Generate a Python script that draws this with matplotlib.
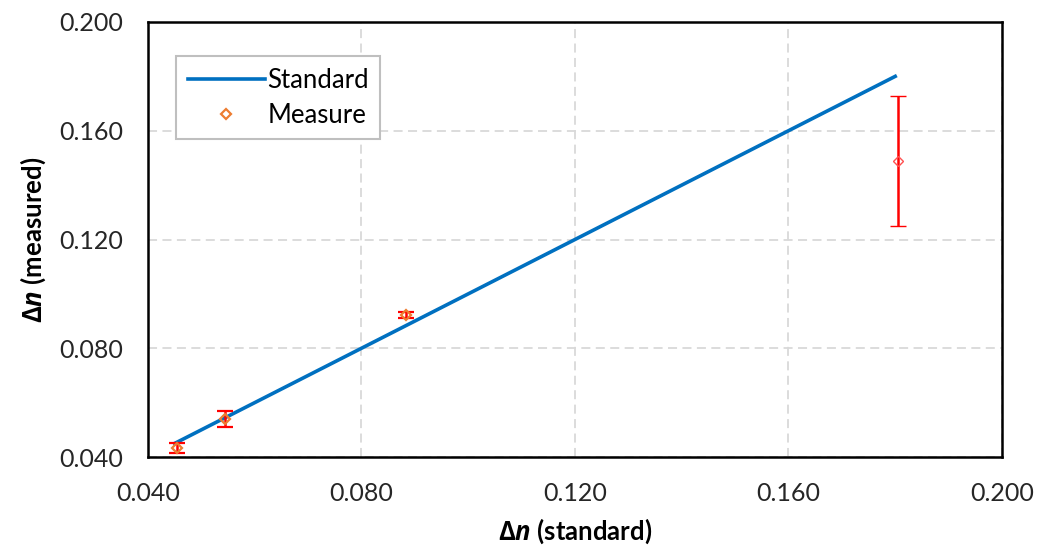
import matplotlib
matplotlib.use("Agg")
import matplotlib.pyplot as plt
from matplotlib.lines import Line2D

# Standard line (y = x)
std_x = [0.045, 0.180]
std_y = [0.045, 0.180]

# Measured points with error bars
meas_x = [0.0455, 0.0545, 0.0883, 0.1805]
meas_y = [0.0433, 0.0540, 0.0922, 0.1489]
meas_err = [0.0018, 0.0028, 0.0010, 0.0239]

x_ticks = [0.040, 0.080, 0.120, 0.160, 0.200]
y_ticks = [0.040, 0.080, 0.120, 0.160, 0.200]

plt.rcParams["font.family"] = ["Lato", "DejaVu Sans"]
plt.rcParams["mathtext.fontset"] = "custom"
plt.rcParams["mathtext.rm"] = "Open Sans:bold"
plt.rcParams["mathtext.it"] = "Open Sans:bold:italic"
plt.rcParams["mathtext.bf"] = "Open Sans:bold"

fig = plt.figure(figsize=(10.37, 5.47), dpi=100)
ax = fig.add_axes([0.1427, 0.1645, 0.8235, 0.7953])

ax.grid(True, color="#d9d9d9", linestyle=(0, (5, 3)), linewidth=1.3)
ax.set_axisbelow(True)

ax.plot(std_x, std_y, color="#0070C0", linewidth=2.6, zorder=3)

ax.errorbar(meas_x[:3], meas_y[:3], yerr=meas_err[:3], fmt="D", markersize=5,
            markerfacecolor="none", markeredgecolor="#ED7D31", markeredgewidth=1.6,
            ecolor="#FF0000", elinewidth=1.8, capsize=5.5, capthick=1.8, zorder=4)
ax.errorbar(meas_x[3:], meas_y[3:], yerr=meas_err[3:], fmt="D", markersize=5,
            markerfacecolor="none", markeredgecolor="#FF5050", markeredgewidth=1.0,
            ecolor="#FF0000", elinewidth=1.8, capsize=5.5, capthick=1.8, zorder=4)

ax.set_xlim(0.040, 0.200)
ax.set_ylim(0.040, 0.200)
ax.set_xticks(x_ticks)
ax.set_yticks(y_ticks)
ax.set_xticklabels([f"{v:.3f}" for v in x_ticks])
ax.set_yticklabels([f"{v:.3f}" for v in y_ticks])
ax.tick_params(axis="both", length=0, labelsize=18, colors="#262626", pad=18)

for sp in ax.spines.values():
    sp.set_color("black")
    sp.set_linewidth(1.8)

ax.set_xlabel(r"$\Delta n$ (standard)", fontsize=18.5, fontweight="bold", labelpad=8)
ax.set_ylabel(r"$\Delta n$ (measured)", fontsize=18.5, fontweight="bold", labelpad=8)

handles = [
    Line2D([], [], color="#0070C0", linewidth=2.6),
    Line2D([], [], linestyle="none", marker="D", markersize=5, markerfacecolor="none",
           markeredgecolor="#ED7D31", markeredgewidth=1.6),
]
leg = ax.legend(handles, ["Standard", "Measure"], loc="upper left",
                bbox_to_anchor=(176 / 1037, 1 - 56 / 547),
                bbox_transform=fig.transFigure, fontsize=18.5, fancybox=False,
                framealpha=1, edgecolor="#bfbfbf", handlelength=3.0,
                handletextpad=0.1, borderpad=0.45, labelspacing=0.4,
                borderaxespad=0)
leg.get_frame().set_linewidth(1.5)

fig.savefig("out.png", dpi=100)
